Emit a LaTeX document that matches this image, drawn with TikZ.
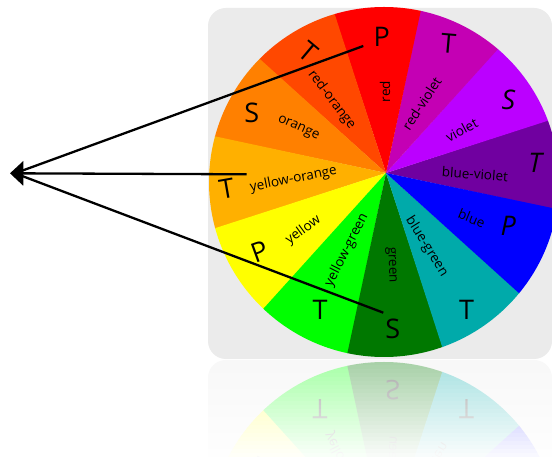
\documentclass[tikz,border=0pt]{standalone}
\usepackage{fontspec}
\setmainfont{Open Sans}
\usetikzlibrary{arrows.meta}
\definecolor{bggray}{HTML}{EBEBEB}
\definecolor{cR}{HTML}{FF0000}
\definecolor{cRO}{HTML}{FF4800}
\definecolor{cO}{HTML}{FF8000}
\definecolor{cYO}{HTML}{FFB000}
\definecolor{cY}{HTML}{FFFF00}
\definecolor{cYG}{HTML}{00FF00}
\definecolor{cG}{HTML}{007800}
\definecolor{cBG}{HTML}{00AAAA}
\definecolor{cB}{HTML}{0000FF}
\definecolor{cBV}{HTML}{7000A0}
\definecolor{cV}{HTML}{BB00FF}
\definecolor{cRV}{HTML}{C400B4}
\tikzset{
  lbl/.style={font=\fontsize{13.5}{15}\selectfont, inner sep=0pt},
  big/.style={font=\fontsize{27}{29}\selectfont, inner sep=0pt},
  bigit/.style={font=\fontsize{27}{29}\selectfont\itshape, inner sep=0pt},
  pointer/.style={line width=2.3pt, black},
  panel/.style={rounded corners=18pt},
}
\newcommand\colorwheel[2]{%
  \begin{scope}[color=black!#1!white]
    \begin{scope}
      \clip (384,275) circle (175);
      \foreach \a/\c in {3/cBV,33/cV,63/cRV,93/cR,123/cRO,153/cO,183/cYO,213/cY,243/cYG,273/cG,303/cBG,333/cB}{
        \fill[\c!#1!white] (386,284) -- +(\a-15.1:400) -- +(\a+15.1:400) -- cycle;
      }
    \end{scope}
    \node[lbl, rotate=90]  (#2red) at (385,365.3) {red};
    \node[lbl, rotate=-53] (#2redorange) at (331.7,357) {red-orange};
    \node[lbl, rotate=-24] (#2orange) at (298.3,328.7) {orange};
    \node[lbl, rotate=11]  (#2yelloworange) at (293.5,277.5) {yellow-orange};
    \node[lbl, rotate=36]  (#2yellow) at (303.3,227) {yellow};
    \node[lbl, rotate=63]  (#2yellowgreen) at (346.7,207) {yellow-green};
    \node[lbl, rotate=-88] (#2green) at (391,192) {green};
    \node[lbl, rotate=-58] (#2bluegreen) at (426.7,210.3) {blue-green};
    \node[lbl, rotate=-22] (#2blue) at (471.7,238.7) {blue};
    \node[lbl, rotate=-4]  (#2blueviolet) at (475,283) {blue-violet};
    \node[lbl, rotate=28]  (#2violet) at (461.7,327) {violet};
    \node[lbl, rotate=57]  (#2redviolet) at (421.7,353.7) {red-violet};
    \node[big] (#2Pred) at (381.7,420.3) {P};
    \node[big, rotate=-5] (#2Trv) at (448.3,413.7) {T};
    \node[bigit] (#2Sv) at (508.3,357) {S};
    \node[bigit] (#2Tbv) at (535,293.7) {T};
    \node[bigit] (#2Pb) at (508.3,231) {P};
    \node[big] (#2Tbg) at (466.7,147) {T};
    \node[big] (#2Sg) at (392.7,127.7) {S};
    \node[big] (#2Tyg) at (320,147) {T};
    \node[big, rotate=20] (#2Py) at (260,205) {P};
    \node[big, rotate=10] (#2Tyo) at (226.7,268.7) {T};
    \node[big] (#2So) at (251.7,343.7) {S};
    \node[big, rotate=-40] (#2Tro) at (308.3,405.3) {T};
  \end{scope}
}
\begin{document}
\begin{tikzpicture}[x=1pt, y=1pt]
  \useasboundingbox (0,0) rectangle (552,457);
  \clip (0,0) rectangle (552,457);
  \fill[white] (0,0) rectangle (552,457);
  % panel and wheel
  \fill[bggray, panel] (208,98) rectangle (552,449);
  \colorwheel{100}{m}
  % reflection
  \begin{scope}
    \clip (0,0) rectangle (552,97.5);
    \begin{scope}[shift={(0,195)}, yscale=-1, transform shape]
      \fill[bggray!35!white, panel] (208,98) rectangle (552,449);
      \colorwheel{35}{r}
    \end{scope}
    \foreach \k in {0,...,23}{
      \pgfmathsetmacro\op{0.95*(1-(4*\k+2)/97)}
      \fill[white, opacity=\op] (0,4*\k) rectangle (552,4*\k+4);
    }
  \end{scope}
  % pointers
  \coordinate (tip) at (10,283.7);
  \coordinate (tipin) at (15,283.7);
  \coordinate (endP) at (363.3,411);
  \coordinate (endT) at (246.7,282.7);
  \coordinate (endS) at (383.3,144.3);
  \draw[pointer] (tipin) -- (endP);
  \draw[pointer] (tipin) -- (endS);
  \draw[pointer, {Triangle[length=13.3pt,width=24.3pt]}-] (tip) -- (endT);
\end{tikzpicture}
\end{document}
